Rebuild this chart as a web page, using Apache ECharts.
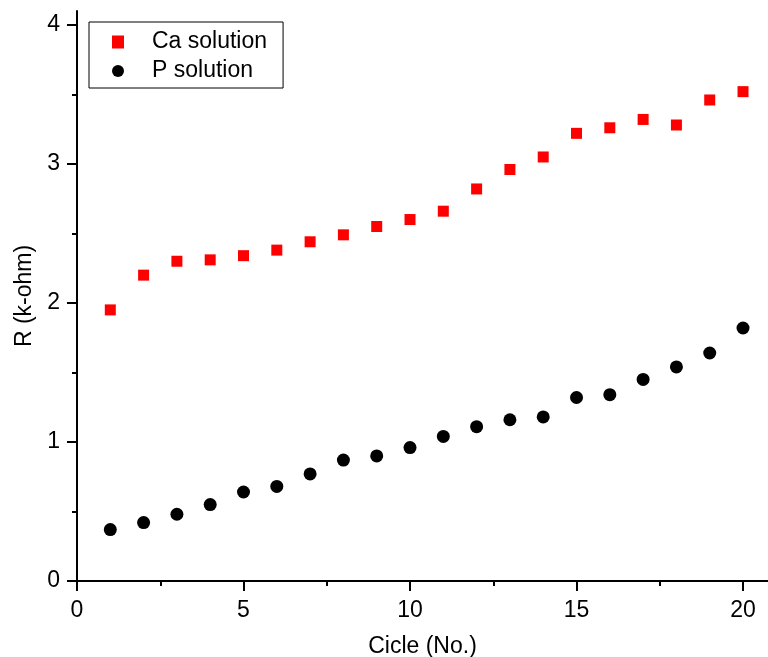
<!DOCTYPE html>
<html>
<head>
<meta charset="utf-8">
<script src="https://cdn.jsdelivr.net/npm/echarts@6/dist/echarts.min.js"></script>
<style>
  html, body { margin: 0; padding: 0; background: #fff; }
  #main { width: 768px; height: 657px; }
</style>
</head>
<body>
<div id="main"></div>
<script>
var cycles = [1, 2, 3, 4, 5, 6, 7, 8, 9, 10, 11, 12, 13, 14, 15, 16, 17, 18, 19, 20];
var caSolution = [1.95, 2.20, 2.30, 2.31, 2.34, 2.38, 2.44, 2.49, 2.55, 2.60,
                  2.66, 2.82, 2.96, 3.05, 3.22, 3.26, 3.32, 3.28, 3.46, 3.52];
var pSolution = [0.37, 0.42, 0.48, 0.55, 0.64, 0.68, 0.77, 0.87, 0.90, 0.96,
                 1.04, 1.11, 1.16, 1.18, 1.32, 1.34, 1.45, 1.54, 1.64, 1.82];
var seriesNames = ['Ca solution', 'P solution'];
var xTicks = [0, 5, 10, 15, 20];
var yTicks = [0, 1, 2, 3, 4];

function pairs(ys) {
  return cycles.map(function (c, i) { return [c, ys[i]]; });
}

var font = 'Liberation Sans, Arial, sans-serif';
var chartDom = document.getElementById('main');
var myChart = echarts.init(chartDom);

var axisCommon = {
  type: 'value',
  axisLine: { show: true, lineStyle: { color: '#000', width: 2 } },
  minorTick: { show: true, splitNumber: 2, length: 5, lineStyle: { color: '#000', width: 2 } },
  splitLine: { show: false },
  nameLocation: 'middle',
  nameTextStyle: { color: '#000', fontSize: 23, fontFamily: font }
};

function tickStyle(vals) {
  return { show: true, inside: false, length: 10, customValues: vals,
           lineStyle: { color: '#000', width: 2 } };
}
function labelStyle(vals, margin) {
  return { color: '#000', fontSize: 23, fontFamily: font, margin: margin, customValues: vals };
}

var option = {
  animation: false,
  backgroundColor: '#fff',
  grid: { left: 77, top: 11, right: 0, bottom: 76, outerBoundsMode: 'none', containLabel: false },
  legend: {
    orient: 'vertical',
    left: 89,
    top: 22,
    padding: [7, 16, 4, 23],
    borderColor: '#000',
    borderWidth: 1,
    itemGap: 3,
    itemWidth: 12,
    itemHeight: 13,
    textStyle: { color: '#000', fontSize: 23, fontFamily: font, lineHeight: 26, padding: [0, 0, 0, 23] },
    data: [
      { name: seriesNames[0], icon: 'rect', itemStyle: { color: '#ff0000' } },
      { name: seriesNames[1], icon: 'circle' }
    ]
  },
  xAxis: Object.assign({}, axisCommon, {
    min: 0,
    max: 20.75,
    interval: 5,
    name: 'Cicle (No.)',
    nameGap: 54,
    axisTick: tickStyle(xTicks),
    axisLabel: labelStyle(xTicks, 18)
  }),
  yAxis: Object.assign({}, axisCommon, {
    min: 0,
    max: 4.1,
    interval: 1,
    name: 'R (k-ohm)',
    nameGap: 40,
    axisTick: tickStyle(yTicks),
    axisLabel: labelStyle(yTicks, 17)
  }),
  series: [
    {
      name: seriesNames[0],
      type: 'scatter',
      symbol: 'rect',
      symbolSize: 11,
      itemStyle: { color: '#ff0000', opacity: 1 },
      data: pairs(caSolution)
    },
    {
      name: seriesNames[1],
      type: 'scatter',
      symbol: 'circle',
      symbolSize: 13,
      itemStyle: { color: '#000', opacity: 1 },
      data: pairs(pSolution)
    }
  ]
};

myChart.setOption(option);
window.addEventListener('resize', myChart.resize);
</script>
</body>
</html>
